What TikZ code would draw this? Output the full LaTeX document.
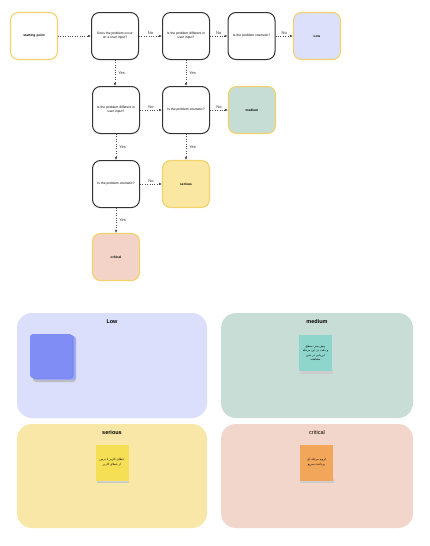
\documentclass[tikz,border=0pt]{standalone}
\usepackage{fontspec}
\setmainfont{Liberation Sans}
\newfontfamily\arabicfont[Script=Arabic]{DejaVu Sans}
\TeXXeTstate=1
\usetikzlibrary{arrows.meta}
\definecolor{gold}{HTML}{F2D36B}
\definecolor{lowfill}{HTML}{DDE0FB}
\definecolor{medfill}{HTML}{C6DDD5}
\definecolor{serfill}{HTML}{F9E7A2}
\definecolor{critfill}{HTML}{F3D3C8}
\definecolor{lowpanel}{HTML}{DCDFFC}
\definecolor{medpanel}{HTML}{C9DDD7}
\definecolor{serpanel}{HTML}{F8E7A6}
\definecolor{critpanel}{HTML}{F2D5CB}
\definecolor{tealnote}{HTML}{8ED6CC}
\definecolor{yelnote}{HTML}{F4DF55}
\definecolor{ornote}{HTML}{F2A65A}
\definecolor{bluestack}{HTML}{7F8DF5}
\begin{document}
\begin{tikzpicture}[x=1pt,y=-1pt,
  box/.style={draw=black!80, line width=1pt, rounded corners=8pt, minimum width=47pt, minimum height=47pt, fill=white, text width=44pt, align=center, inner sep=1pt, font=\fontsize{3.3}{4}\selectfont},
  result/.style={box, draw=gold, line width=1.1pt},
  conn/.style={draw=black!70, line width=0.5pt, dash pattern=on 0.8pt off 1.6pt, -{Latex[length=3pt,width=2.6pt]}},
  lab/.style={font=\fontsize{4}{5}\selectfont, text=black!80, inner sep=1pt},
  panel/.style={rounded corners=15pt, draw=none},
  ptitle/.style={font=\fontsize{5.5}{6}\selectfont\bfseries},
  note/.style={minimum width=33pt, minimum height=36pt, inner sep=1pt, align=center, font=\arabicfont\fontsize{3}{4.6}\selectfont}
]
\useasboundingbox (0,0) rectangle (430,546);
\fill[white] (0,0) rectangle (430,546);

% flowchart
\node[result, fill=white] (start) at (34,36) {\textbf{starting point}};
\node[box] (A) at (115,36) {Does the problem occur\\on a user input?};
\node[box] (B) at (186,36) {Is the problem different in\\user input?};
\node[box] (C) at (251.5,36) {Is the problem cosmetic?};
\node[result, fill=lowfill] (low) at (317,36) {\textbf{Low}};
\node[box] (D) at (116,110) {Is the problem different in\\user input?};
\node[box] (E) at (186,110) {Is the problem cosmetic?};
\node[result, fill=medfill] (medium) at (252,110) {\textbf{medium}};
\node[box] (F) at (116,184) {Is the problem cosmetic?};
\node[result, fill=serfill] (serious) at (186,184) {\textbf{serious}};
\node[result, fill=critfill] (critical) at (116,257) {\textbf{critical}};

\draw[conn] (start) -- (A);
\draw[conn] (A) -- node[lab, above] {No} (B);
\draw[conn] (B) -- node[lab, above] {No} (C);
\draw[conn] (C) -- node[lab, above] {No} (low);
\draw[conn] (A.south) -- node[lab, right=2pt] {Yes} (A.south |- D.north);
\draw[conn] (B) -- node[lab, right=2pt] {Yes} (E);
\draw[conn] (D) -- node[lab, above] {No} (E);
\draw[conn] (E) -- node[lab, above] {No} (medium);
\draw[conn] (D) -- node[lab, right=2pt] {Yes} (F);
\draw[conn] (E) -- node[lab, right=2pt] {Yes} (serious);
\draw[conn] (F) -- node[lab, above] {No} (serious);
\draw[conn] (F) -- node[lab, right=2pt] {Yes} (critical);

% panels
\fill[panel, lowpanel] (17,313) rectangle (207,418);
\node[ptitle] (lowt) at (112,322) {Low};
\fill[panel, medpanel] (221,313) rectangle (413,418);
\node[ptitle] (medt) at (317,322) {medium};
\fill[panel, serpanel] (17,424) rectangle (207,528);
\node[ptitle] (sert) at (112,433) {serious};
\fill[panel, critpanel] (221,424) rectangle (413,528);
\node[font=\fontsize{5.5}{6}\selectfont] (critt) at (317,433) {critical};

% blue stack
\fill[black!25, rounded corners=3pt] (33,339) rectangle (76,382);
\foreach \d/\c in {4/bluestack!70!white, 3/bluestack!80!white, 2/bluestack!90!white, 1/bluestack!95!black, 0/bluestack}{
  \fill[\c, rounded corners=3pt] (30+\d,334+\d*0.5) rectangle (72+\d,378+\d*0.5);
}

% notes with shadow
\fill[black!20] (300,370) rectangle (333,374);
\node[note, fill=tealnote] (n1) at (315.5,353) {\beginR پیش بینی سطح\endR\\\beginR و دقت در این مرحله\endR\\\beginR ارزیابی در حین\endR\\\beginR مشاهده\endR};
\fill[black!20] (97,479) rectangle (129,483);
\node[note, fill=yelnote] (n2) at (112,462.5) {\beginR خطای کاربر یا ترس\endR\\\beginR از خطای کاربر\endR};
\fill[black!20] (300,479) rectangle (334,483);
\node[note, fill=ornote] (n3) at (316.5,462.5) {\beginR لزوم مرحله ای\endR\\\beginR پرداخت سریع\endR};
\end{tikzpicture}
\end{document}
